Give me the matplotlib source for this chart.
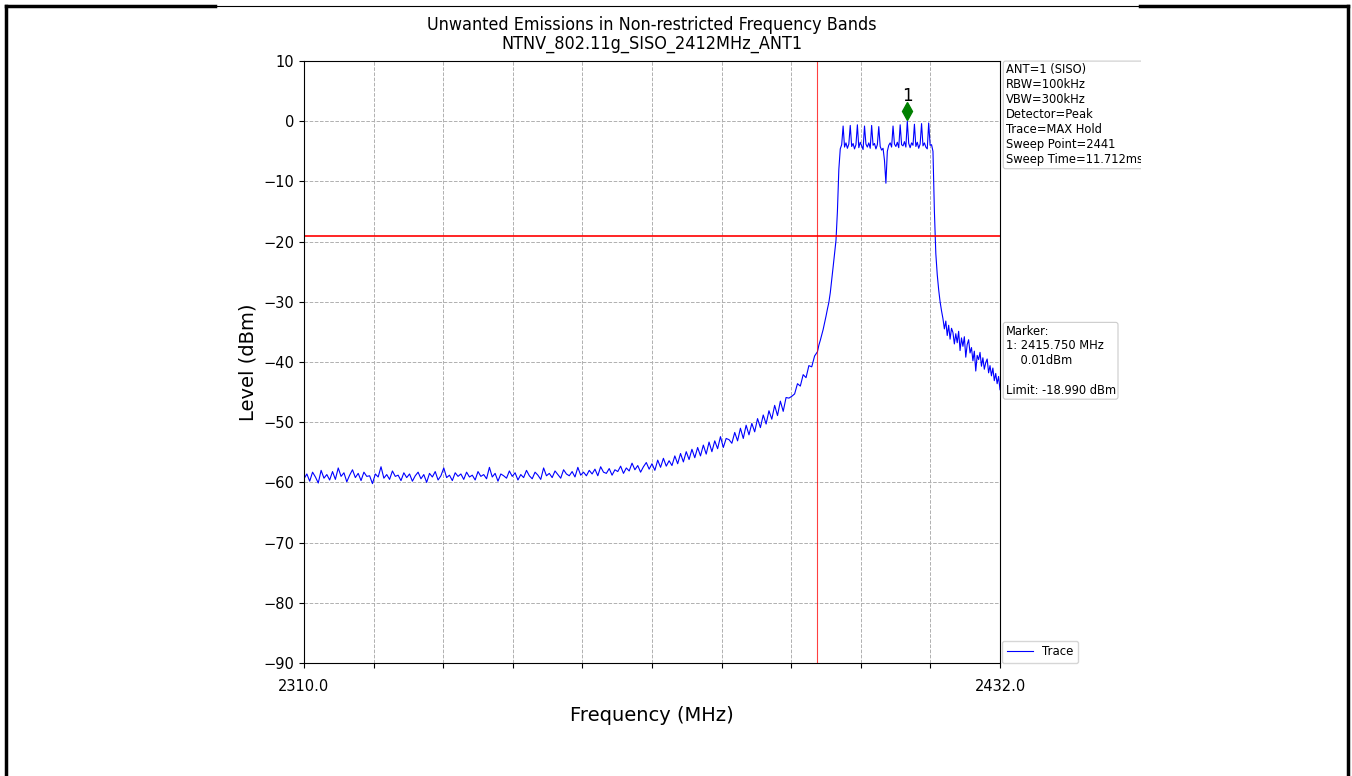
import numpy as np
import matplotlib
matplotlib.use("Agg")
import matplotlib.pyplot as plt
import matplotlib.transforms as mtransforms
from matplotlib.lines import Line2D
from matplotlib.patches import Rectangle

# Trace levels (dBm)
# segment A: 2310.0 .. 2399.5 MHz, 0.5 MHz steps
levels_a = [
    -59.4, -58.6, -59.8, -58.3, -59.1, -60.1, -58.0, -59.3, -58.7, -59.6,
    -58.2, -59.5, -57.6, -59.0, -58.4, -59.9, -58.8, -57.9, -59.2, -58.5,
    -59.7, -58.3, -59.0, -58.9, -60.2, -58.6, -59.1, -57.4, -59.3, -58.7,
    -59.5, -58.1, -59.0, -58.8, -59.7, -58.4, -59.2, -58.6, -59.8, -58.9,
    -58.3, -59.4, -58.7, -60.0, -58.5, -59.1, -58.2, -59.6, -58.9, -57.6,
    -59.2, -58.8, -59.7, -58.4, -59.0, -58.6, -59.5, -58.3, -59.1, -58.8,
    -59.6, -58.2, -59.0, -58.7, -59.4, -57.5, -59.1, -58.5, -59.8, -58.6,
    -58.9, -59.3, -58.1, -59.0, -58.4, -59.6, -58.7, -59.2, -58.0, -58.9,
    -59.4, -58.3, -58.8, -59.5, -57.6, -58.9, -58.5, -59.2, -58.1, -58.7,
    -59.3, -57.9, -58.6, -58.9, -58.2, -59.1, -57.5, -58.8, -58.3, -58.9,
    -58.0, -58.6, -57.8, -58.9, -57.4, -58.3, -58.5, -57.7, -58.8, -57.9,
    -58.2, -57.3, -58.5, -57.6, -58.1, -56.8, -57.9, -57.2, -58.3, -57.4,
    -56.7, -57.8, -56.9, -58.0, -56.3, -57.5, -56.0, -57.3, -56.4, -57.2,
    -55.6, -56.9, -55.2, -56.6, -54.9, -56.2, -54.5, -55.9, -54.2, -55.6,
    -53.8, -55.3, -53.3, -54.9, -53.1, -54.4, -52.4, -54.2, -52.7, -52.9,
    -53.5, -51.7, -53.1, -51.0, -52.7, -50.5, -52.1, -50.2, -51.6, -49.4,
    -50.9, -48.8, -50.3, -48.1, -49.5, -47.2, -48.9, -46.5, -48.2, -45.9,
    -46.0, -45.7, -45.3, -43.6, -44.0, -42.1, -42.6, -40.6, -40.8, -39.0,
]
# segment B: 2400.00 .. 2421.75 MHz, 0.25 MHz steps (the channel)
levels_b = [
    -38.3, -37.2, -36.4, -35.5, -34.6, -33.5, -32.4, -31.2,
    -30.1, -28.5, -26.4, -24.2, -22.0, -19.8, -15.0, -8.0,
    -4.6, -3.9, -0.8, -4.3,    # 2404
    -3.6, -4.5, -3.8, -0.7,    # 2405
    -4.2, -3.7, -4.6, -3.9,    # 2406
    -0.6, -4.4, -3.5, -4.1,    # 2407
    -4.7, -0.8, -3.8, -4.3,    # 2408
    -3.6, -4.5, -0.7, -4.0,    # 2409
    -3.7, -4.6, -3.9, -0.9,    # 2410
    -4.2, -4.8, -4.5, -6.5,    # 2411
    -10.3, -5.0, -4.0, -3.6,   # 2412
    -4.3, -0.8, -3.8, -4.2,    # 2413
    -3.5, -4.4, -0.6, -3.9,    # 2414
    -4.1, -3.4, -4.3, 0.01,    # 2415
    -3.7, -4.4, -3.6, -4.0,    # 2416
    -0.5, -4.2, -3.5, -4.5,    # 2417
    -3.8, -0.4, -4.1, -3.6,    # 2418
    -4.3, -4.6, -0.3, -4.0,    # 2419
    -3.9, -5.0, -15.0, -22.0,  # 2420
    -25.5, -28.0, -30.0, -31.5,  # 2421
]
# segment C: 2422.00 .. 2432.00 MHz, 0.25 MHz steps
levels_c = [
    -32.8, -34.5, -33.2, -35.6,
    -33.9, -36.2, -34.4, -35.1,
    -37.0, -35.3, -36.8, -34.9,
    -38.1, -36.0, -37.4, -35.8,
    -39.2, -37.1, -36.3, -38.5,
    -37.6, -39.8, -38.2, -41.5,
    -38.9, -39.6, -38.4, -40.7,
    -39.3, -41.2, -40.1, -39.5,
    -41.8, -40.6, -42.3, -41.0,
    -43.1, -41.9, -43.6, -42.4,
    -44.6,
]

f_start, f_stop = 2310.0, 2432.0
limit_dbm = -18.99
band_edge = 2400.0
marker_freq = 2415.75
marker_level = 0.01

info_text = ("ANT=1 (SISO)\nRBW=100kHz\nVBW=300kHz\nDetector=Peak\n"
             "Trace=MAX Hold\nSweep Point=2441\nSweep Time=11.712ms")
marker_text = ("Marker:\n1: %.3f MHz\n    %.2fdBm\n\nLimit: %.3f dBm"
               % (marker_freq, marker_level, limit_dbm))

freq_a = f_start + 0.5 * np.arange(len(levels_a))
freq_b = 2400.0 + 0.25 * np.arange(len(levels_b))
freq_c = 2422.0 + 0.25 * np.arange(len(levels_c))
freq = np.concatenate([freq_a, freq_b, freq_c])
level = np.concatenate([levels_a, levels_b, levels_c])

W, H = 1352, 776
fig = plt.figure(figsize=(W / 100, H / 100), dpi=100)
ax = fig.add_axes([304 / W, 1 - 663 / H, 696 / W, 602 / H])

ax.plot(freq, level, color="blue", lw=0.8, label="Trace")
ax.axhline(limit_dbm, color="red", lw=1.2)
ax.axvline(band_edge, color="red", lw=0.8, alpha=0.75)

# marker diamond + number, shifted up from the data point
up_d = mtransforms.offset_copy(ax.transData, fig=fig, x=0, y=7, units="points")
ax.plot([marker_freq], [marker_level], marker="d", color="green",
        markersize=9, transform=up_d, clip_on=False)
ax.text(marker_freq, marker_level, "1", ha="center", va="center", fontsize=12,
        transform=mtransforms.offset_copy(ax.transData, fig=fig, x=0, y=18,
                                          units="points"))

ax.set_xlim(f_start, f_stop)
ax.set_ylim(-90, 10)
xt = np.linspace(f_start, f_stop, 11)
ax.set_xticks(xt)
ax.set_xticklabels(["%.1f" % f_start] + [""] * 9 + ["%.1f" % f_stop])
ax.set_yticks(np.arange(-90, 11, 10))
ax.tick_params(labelsize=10.5)
ax.tick_params(axis="x", pad=8)
ax.grid(True, ls="--", color="#b0b0b0", lw=0.7)

ax.set_xlabel("Frequency (MHz)", fontsize=14, labelpad=9)
ax.set_ylabel("Level (dBm)", fontsize=14)
ax.set_title("Unwanted Emissions in Non-restricted Frequency Bands\n"
             "NTNV_802.11g_SISO_2412MHz_ANT1", fontsize=12.9,
             fontstretch="condensed", linespacing=1.05, pad=9)

box = dict(boxstyle="round,pad=0.2", fc="white", ec="#cccccc", lw=0.8)
ax.text(1.008, 0.996, info_text, transform=ax.transAxes, va="top", ha="left",
        fontsize=8.3, bbox=box, linespacing=1.2)
ax.text(1.008, 0.562, marker_text, transform=ax.transAxes, va="top", ha="left",
        fontsize=8.3, bbox=box, linespacing=1.18)
ax.legend(loc="lower left", bbox_to_anchor=(1.003, 0.0), fontsize=8.5,
          borderaxespad=0.0, handlelength=2.2)

# the screenshot is cropped at x=1140 and sits inside a black frame
fig.add_artist(Rectangle((1141 / W, 1 - 300 / H), 205 / W, 292 / H,
                         transform=fig.transFigure, fc="white", ec="none",
                         zorder=5))
fkw = dict(transform=fig.transFigure, color="black", zorder=6)
fig.add_artist(Line2D([6 / W, 215 / W], [1 - 6 / H] * 2, lw=2.5, **fkw))
fig.add_artist(Line2D([1140 / W, 1348 / W], [1 - 6 / H] * 2, lw=2.5, **fkw))
fig.add_artist(Line2D([215 / W, 1140 / W], [1 - 6 / H] * 2, lw=0.8, **fkw))
fig.add_artist(Line2D([6 / W, 6 / W], [0, 1 - 6 / H], lw=2.5, **fkw))
fig.add_artist(Line2D([1348 / W, 1348 / W], [0, 1 - 6 / H], lw=2.5, **fkw))

fig.savefig("out.png", dpi=100)
